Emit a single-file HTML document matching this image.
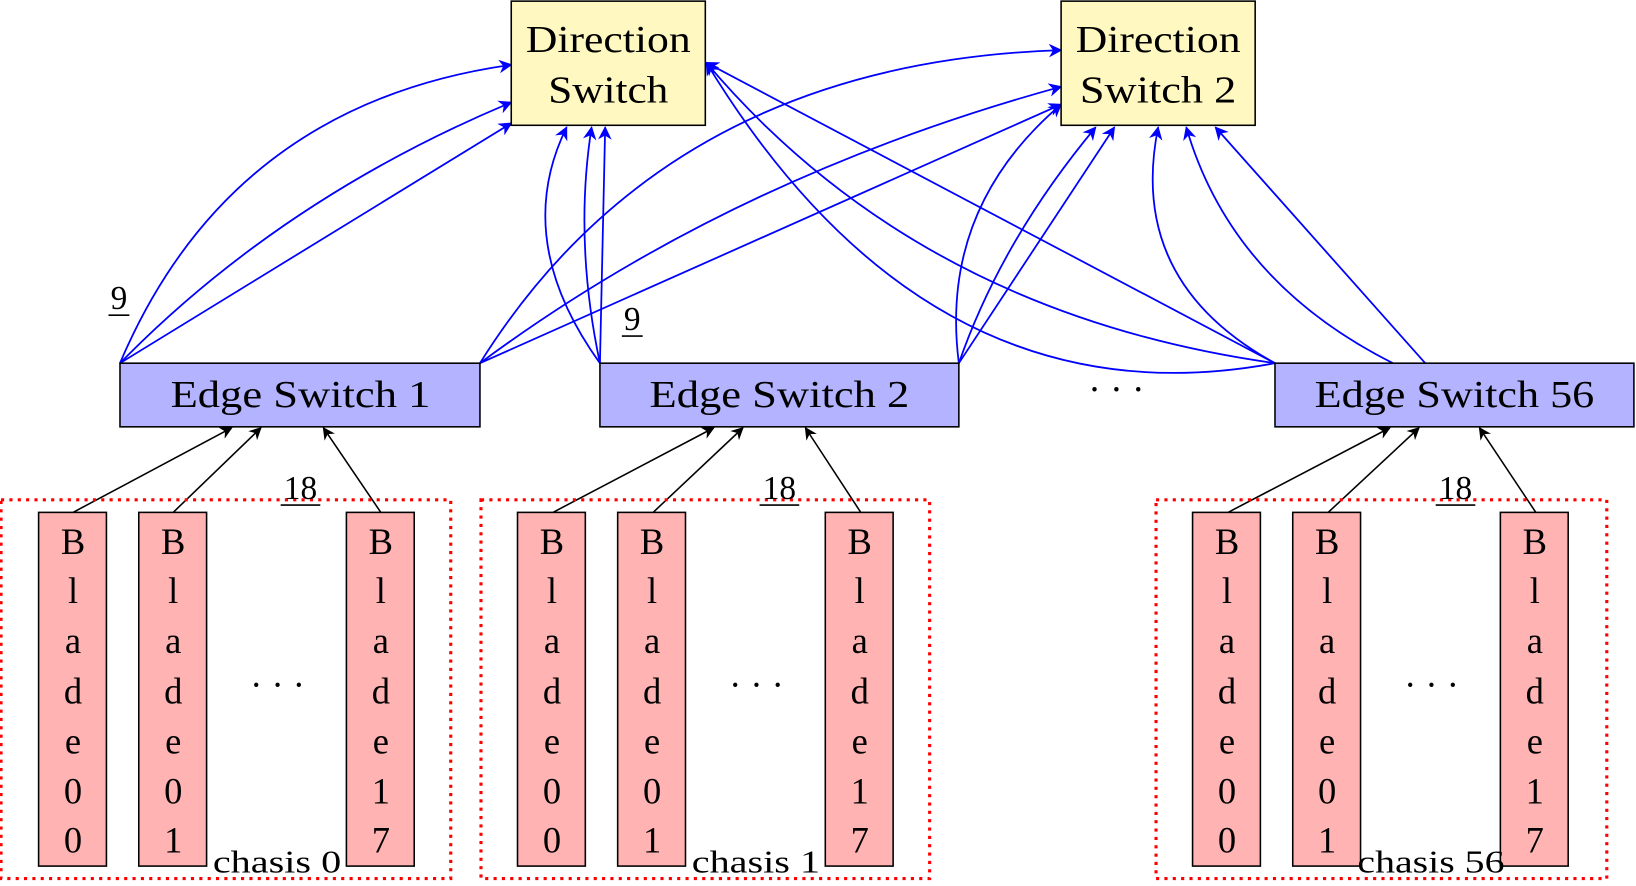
<!DOCTYPE html>
<html><head><meta charset="utf-8"><style>
html,body{margin:0;padding:0;background:#fff}
svg{display:block}
text{font-family:"Liberation Serif",serif;fill:#000}
</style></head><body>
<svg width="1636" height="886" viewBox="0 0 1568 849" xmlns="http://www.w3.org/2000/svg">
<defs>
<marker id="ab" viewBox="0 0 10 10" refX="9" refY="5" markerWidth="13" markerHeight="13" orient="auto" markerUnits="userSpaceOnUse"><path d="M0,0 L10,5 L0,10 L3,5 Z" fill="#00f"/></marker>
<marker id="ak" viewBox="0 0 10 10" refX="9" refY="5" markerWidth="12" markerHeight="12" orient="auto" markerUnits="userSpaceOnUse"><path d="M0,0 L10,5 L0,10 L3,5 Z" fill="#000"/></marker>
</defs>
<g fill="none" stroke="#00f" stroke-width="1.7" marker-end="url(#ab)">
<path d="M115,348 Q220,100 490,62"/>
<path d="M115,348 Q270,190 490,98"/>
<path d="M115,348 L490,118"/>
<path d="M460,348 Q640,60 1017,48"/>
<path d="M460,348 Q700,170 1017,83"/>
<path d="M460,348 L1017,100"/>
<path d="M575,348 Q490,230 543,122"/>
<path d="M575,348 Q550,230 567,122"/>
<path d="M575,348 L580,122"/>
<path d="M919,348 Q900,200 1017,100"/>
<path d="M919,348 Q960,230 1050,122"/>
<path d="M919,348 L1068,122"/>
<path d="M1222,348 L677,60"/>
<path d="M1222,348 Q880,300 677,60"/>
<path d="M1222,348 Q890,410 677,60"/>
<path d="M1222,348 Q1080,270 1110,122"/>
<path d="M1335,348 Q1180,270 1137,122"/>
<path d="M1366,348 L1165,122"/>
</g>
<g fill="none" stroke="#000" stroke-width="1.5" marker-end="url(#ak)">
<path d="M70,491 L222,410"/><path d="M166,491 L250,410"/><path d="M365,491 L310,410"/>
<path d="M530,491 L684,410"/><path d="M626,491 L712,410"/><path d="M825,491 L772,410"/>
<path d="M1177,491 L1332,410"/><path d="M1273,491 L1360,410"/><path d="M1472,491 L1418,410"/>
</g>
<g stroke="#000" stroke-width="1.5">
<rect x="490" y="1" width="186" height="119" fill="#fff8c0"/>
<rect x="1017" y="1" width="186" height="119" fill="#fff8c0"/>
<rect x="115" y="348" width="345" height="61" fill="#b3b3ff"/>
<rect x="575" y="348" width="344" height="61" fill="#b3b3ff"/>
<rect x="1222" y="348" width="344" height="61" fill="#b3b3ff"/>
</g>
<g font-size="36" text-anchor="middle" lengthAdjust="spacingAndGlyphs">
<text x="583" y="50" textLength="158" lengthAdjust="spacingAndGlyphs">Direction</text>
<text x="583" y="98" textLength="115" lengthAdjust="spacingAndGlyphs">Switch</text>
<text x="1110" y="50" textLength="158" lengthAdjust="spacingAndGlyphs">Direction</text>
<text x="1110" y="98" textLength="150" lengthAdjust="spacingAndGlyphs">Switch 2</text>
<text x="288" y="390" textLength="249" lengthAdjust="spacingAndGlyphs">Edge Switch 1</text>
<text x="747" y="390" textLength="249" lengthAdjust="spacingAndGlyphs">Edge Switch 2</text>
<text x="1394" y="390" textLength="268" lengthAdjust="spacingAndGlyphs">Edge Switch 56</text>
<text x="1070" y="385">· · ·</text>
</g>
<g fill="none" stroke="#f00" stroke-width="3" stroke-dasharray="3,5">
<rect x="1" y="479" width="431" height="363"/>
<rect x="461" y="479" width="430" height="363"/>
<rect x="1108" y="479" width="432" height="363"/>
</g>
<g stroke="#000" stroke-width="1.5" fill="#ffb3b3">
<rect x="37" y="491" width="65" height="339"/><rect x="133" y="491" width="65" height="339"/><rect x="332" y="491" width="65" height="339"/>
<rect x="496" y="491" width="65" height="339"/><rect x="592" y="491" width="65" height="339"/><rect x="791" y="491" width="65" height="339"/>
<rect x="1143" y="491" width="65" height="339"/><rect x="1239" y="491" width="65" height="339"/><rect x="1438" y="491" width="65" height="339"/>
</g>
<g font-size="35" text-anchor="middle">
<text x="70" y="531">B</text><text x="70" y="578">l</text><text x="70" y="626">a</text><text x="70" y="674">d</text><text x="70" y="722">e</text><text x="70" y="770">0</text><text x="70" y="817">0</text>
<text x="166" y="531">B</text><text x="166" y="578">l</text><text x="166" y="626">a</text><text x="166" y="674">d</text><text x="166" y="722">e</text><text x="166" y="770">0</text><text x="166" y="817">1</text>
<text x="365" y="531">B</text><text x="365" y="578">l</text><text x="365" y="626">a</text><text x="365" y="674">d</text><text x="365" y="722">e</text><text x="365" y="770">1</text><text x="365" y="817">7</text>
<text x="529" y="531">B</text><text x="529" y="578">l</text><text x="529" y="626">a</text><text x="529" y="674">d</text><text x="529" y="722">e</text><text x="529" y="770">0</text><text x="529" y="817">0</text>
<text x="625" y="531">B</text><text x="625" y="578">l</text><text x="625" y="626">a</text><text x="625" y="674">d</text><text x="625" y="722">e</text><text x="625" y="770">0</text><text x="625" y="817">1</text>
<text x="824" y="531">B</text><text x="824" y="578">l</text><text x="824" y="626">a</text><text x="824" y="674">d</text><text x="824" y="722">e</text><text x="824" y="770">1</text><text x="824" y="817">7</text>
<text x="1176" y="531">B</text><text x="1176" y="578">l</text><text x="1176" y="626">a</text><text x="1176" y="674">d</text><text x="1176" y="722">e</text><text x="1176" y="770">0</text><text x="1176" y="817">0</text>
<text x="1272" y="531">B</text><text x="1272" y="578">l</text><text x="1272" y="626">a</text><text x="1272" y="674">d</text><text x="1272" y="722">e</text><text x="1272" y="770">0</text><text x="1272" y="817">1</text>
<text x="1471" y="531">B</text><text x="1471" y="578">l</text><text x="1471" y="626">a</text><text x="1471" y="674">d</text><text x="1471" y="722">e</text><text x="1471" y="770">1</text><text x="1471" y="817">7</text>
<text x="266" y="668">· · ·</text><text x="725" y="668">· · ·</text><text x="1372" y="668">· · ·</text>
</g>
<g font-size="30">
<text x="204" y="836" textLength="123" lengthAdjust="spacingAndGlyphs">chasis 0</text>
<text x="663" y="836" textLength="123" lengthAdjust="spacingAndGlyphs">chasis 1</text>
<text x="1301" y="836" textLength="141" lengthAdjust="spacingAndGlyphs">chasis 56</text>
</g>
<g font-size="32" text-anchor="middle">
<text x="288" y="478">18</text><text x="747" y="478">18</text><text x="1395" y="478">18</text>
<text x="114" y="296">9</text><text x="606" y="316">9</text>
</g>
<g stroke="#000" stroke-width="1.6">
<line x1="269" y1="484" x2="307" y2="484"/><line x1="728" y1="484" x2="766" y2="484"/><line x1="1376" y1="484" x2="1414" y2="484"/>
<line x1="104" y1="302" x2="124" y2="302"/><line x1="596" y1="322" x2="616" y2="322"/>
</g>
</svg>
</body></html>
